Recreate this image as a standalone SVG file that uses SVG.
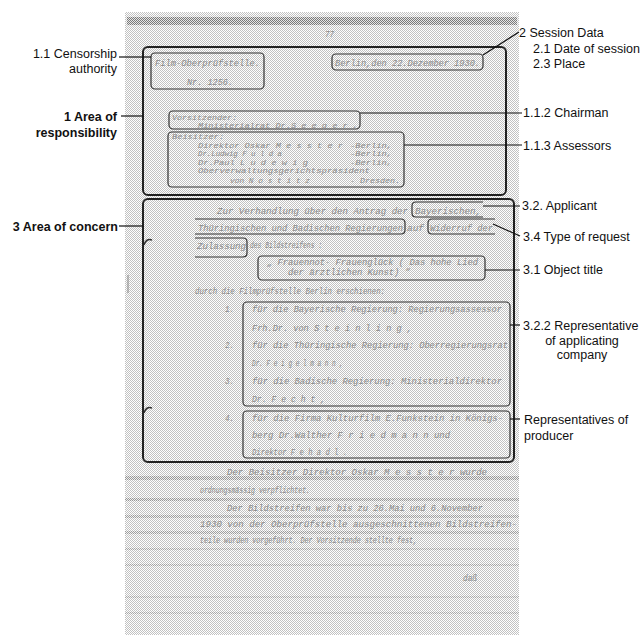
<svg xmlns="http://www.w3.org/2000/svg" width="642" height="635" viewBox="0 0 642 635">
<defs>
<pattern id="dots" width="2" height="2" patternUnits="userSpaceOnUse">
<rect width="2" height="2" fill="#ffffff"/>
<rect x="0" y="0" width="1" height="1" fill="#c2c2c2"/>
<rect x="1" y="1" width="1" height="1" fill="#c2c2c2"/>
</pattern>
<pattern id="dots2" width="2" height="2" patternUnits="userSpaceOnUse">
<rect width="2" height="2" fill="#e6e6e6"/>
<rect x="0" y="0" width="1" height="1" fill="#7a7a7a"/>
<rect x="1" y="1" width="1" height="1" fill="#7a7a7a"/>
</pattern>
<style>
.tw{font-family:"Liberation Mono","DejaVu Sans Mono",monospace;font-style:italic;font-size:9px;fill:#8a8a8a}
.sm{font-size:7.5px}
.md{font-size:8.5px}
.lab{font-family:"Liberation Sans",Arial,sans-serif;font-size:12.5px;fill:#111}
.b{font-weight:bold}
.ob{fill:none;stroke:#222;stroke-width:2}
.ib{fill:none;stroke:#333;stroke-width:1.2}
.con{fill:none;stroke:#111;stroke-width:1.2}
.mk{fill:none;stroke:#333;stroke-width:1.5}
</style>
</defs>
<rect width="642" height="635" fill="#ffffff"/>
<!-- scanned page -->
<g id="page">
<rect x="125" y="12" width="394" height="623" fill="url(#dots)"/>
<rect x="127" y="17" width="390" height="8" fill="url(#dots2)"/>
<rect x="125" y="476" width="394" height="4" fill="url(#dots2)" opacity="0.6"/>
<rect x="125" y="498" width="394" height="3" fill="url(#dots2)" opacity="0.6"/>
<rect x="125" y="515" width="394" height="3" fill="url(#dots2)" opacity="0.5"/>
<rect x="125" y="531" width="394" height="3" fill="url(#dots2)" opacity="0.5"/>
<rect x="125" y="548" width="394" height="2" fill="url(#dots2)" opacity="0.4"/>
<rect x="125" y="564" width="394" height="2" fill="url(#dots2)" opacity="0.4"/>
<rect x="125" y="596" width="394" height="2" fill="url(#dots2)" opacity="0.35"/>
<rect x="125" y="612" width="394" height="2" fill="url(#dots2)" opacity="0.35"/>
<path class="mk" d="M144,245 Q146,238 152,240"/>
<path class="mk" d="M144,413 Q146,406 152,408"/>
<line x1="128" y1="275" x2="128" y2="293" stroke="#888" stroke-width="1"/>
<text class="tw" x="325" y="37" textLength="9" lengthAdjust="spacingAndGlyphs">77</text>
<!-- text outside boxes -->
<text class="tw" x="227" y="475" textLength="260" lengthAdjust="spacingAndGlyphs">Der Beisitzer Direktor Oskar M e s s t e r  wurde</text>
<text class="tw" x="200" y="493" textLength="110" lengthAdjust="spacingAndGlyphs">ordnungsmässig verpflichtet.</text>
<text class="tw" x="227" y="511" textLength="256" lengthAdjust="spacingAndGlyphs">Der Bildstreifen war bis zu 26.Mai und 6.November</text>
<text class="tw" x="200" y="527" textLength="317" lengthAdjust="spacingAndGlyphs">1930 von der Oberprüfstelle ausgeschnittenen Bildstreifen-</text>
<text class="tw" x="200" y="543" textLength="217" lengthAdjust="spacingAndGlyphs">teile wurden vorgeführt. Der Vorsitzende stellte fest,</text>
<text class="tw" x="463" y="581" textLength="14" lengthAdjust="spacingAndGlyphs">daß</text>
</g>

<!-- 1 Area of responsibility -->
<g id="area-responsibility">
<rect class="ob" x="143" y="47" width="363" height="148" rx="5"/>
<text class="lab b" x="117" y="121" text-anchor="end">1 Area of</text>
<text class="lab b" x="117" y="137" text-anchor="end">responsibility</text>
</g>

<g id="censorship-authority">
<rect class="ib" x="151" y="53" width="113" height="36" rx="4"/>
<text class="tw" x="155" y="66" textLength="105" lengthAdjust="spacingAndGlyphs">Film-Oberprüfstelle.</text>
<text class="tw" x="187" y="85" textLength="46" lengthAdjust="spacingAndGlyphs">Nr. 1256.</text>
<text class="lab" x="117" y="58" text-anchor="end">1.1 Censorship</text>
<text class="lab" x="117" y="72.5" text-anchor="end">authority</text>
</g>

<g id="session-data">
<rect class="ib" x="332" y="54" width="151" height="16" rx="4"/>
<text class="tw" x="335" y="66" textLength="145" lengthAdjust="spacingAndGlyphs">Berlin,den 22.Dezember 1930.</text>
<text class="lab" x="519" y="37">2 Session Data</text>
<text class="lab" x="533" y="52.5">2.1 Date of session</text>
<text class="lab" x="533" y="68">2.3 Place</text>
</g>

<g id="chairman">
<rect class="ib" x="169" y="111" width="191" height="18" rx="4"/>
<text class="tw sm" x="172" y="119.5" textLength="65" lengthAdjust="spacingAndGlyphs">Vorsitzender:</text>
<text class="tw sm" x="198" y="128" textLength="160" lengthAdjust="spacingAndGlyphs">Ministerialrat Dr.S e e g e r ,</text>
<text class="lab" x="523" y="117">1.1.2 Chairman</text>
</g>

<g id="assessors">
<rect class="ib" x="168" y="132" width="236" height="55" rx="4"/>
<text class="tw sm" x="172" y="139" textLength="52" lengthAdjust="spacingAndGlyphs">Beisitzer:</text>
<text class="tw sm" x="198" y="147.5" textLength="145" lengthAdjust="spacingAndGlyphs">Direktor Oskar M e s s t e r</text>
<text class="tw sm" x="350" y="147.5" textLength="42" lengthAdjust="spacingAndGlyphs">-Berlin,</text>
<text class="tw sm" x="198" y="156" textLength="84" lengthAdjust="spacingAndGlyphs">Dr.Ludwig F u l d a</text>
<text class="tw sm" x="350" y="156" textLength="42" lengthAdjust="spacingAndGlyphs">-Berlin,</text>
<text class="tw sm" x="198" y="164.5" textLength="110" lengthAdjust="spacingAndGlyphs">Dr.Paul L u d e w i g</text>
<text class="tw sm" x="350" y="164.5" textLength="42" lengthAdjust="spacingAndGlyphs">-Berlin,</text>
<text class="tw sm" x="198" y="173" textLength="172" lengthAdjust="spacingAndGlyphs">Oberverwaltungsgerichtspräsident</text>
<text class="tw sm" x="230" y="182.5" textLength="80" lengthAdjust="spacingAndGlyphs">von N o s t i t z</text>
<text class="tw sm" x="350" y="182.5" textLength="50" lengthAdjust="spacingAndGlyphs">- Dresden.</text>
<text class="lab" x="523" y="149.5">1.1.3 Assessors</text>
</g>

<!-- 3 Area of concern -->
<g id="area-concern">
<rect class="ob" x="143" y="199" width="371" height="263" rx="5"/>
<text class="tw" x="217" y="214" textLength="191" lengthAdjust="spacingAndGlyphs">Zur Verhandlung über den Antrag der</text>
<text class="tw" x="407" y="231" textLength="17" lengthAdjust="spacingAndGlyphs">auf</text>
<text class="tw" x="250" y="248" textLength="72" lengthAdjust="spacingAndGlyphs">des Bildstreifens :</text>
<text class="tw" x="195" y="294" textLength="190" lengthAdjust="spacingAndGlyphs">durch die Filmprüfstelle Berlin erschienen:</text>
<text class="tw" x="225" y="312" textLength="9" lengthAdjust="spacingAndGlyphs">1.</text>
<text class="tw" x="225" y="348" textLength="9" lengthAdjust="spacingAndGlyphs">2.</text>
<text class="tw" x="225" y="384" textLength="9" lengthAdjust="spacingAndGlyphs">3.</text>
<text class="tw" x="225" y="421" textLength="9" lengthAdjust="spacingAndGlyphs">4.</text>
<text class="lab b" x="118" y="230.5" text-anchor="end">3 Area of concern</text>
</g>

<g id="applicant">
<path class="ib" d="M483,202 H416 Q412,202 412,206 V213 Q412,217 416,217 H483"/>
<path class="ib" d="M195,219 H401 Q405,219 405,223 V230 Q405,234 401,234 H195"/>
<text class="tw" x="415" y="214" textLength="66" lengthAdjust="spacingAndGlyphs">Bayerischen,</text>
<text class="tw" x="198" y="231" textLength="205" lengthAdjust="spacingAndGlyphs">Thüringischen und Badischen Regierungen</text>
<text class="lab" x="522" y="209.5">3.2. Applicant</text>
</g>

<g id="type-of-request">
<path class="ib" d="M495,219 H432 Q428,219 428,223 V230 Q428,234 432,234 H495"/>
<path class="ib" d="M195,238 H243 Q247,238 247,242 V253 Q247,257 243,257 H195"/>
<text class="tw" x="430" y="231" textLength="63" lengthAdjust="spacingAndGlyphs">Widerruf der</text>
<text class="tw" x="197" y="249" textLength="49" lengthAdjust="spacingAndGlyphs">Zulassung</text>
<text class="lab" x="523" y="240.5">3.4 Type of request</text>
</g>

<g id="object-title">
<rect class="ib" x="258" y="256" width="227" height="24" rx="4"/>
<text class="tw md" x="267" y="265" textLength="211" lengthAdjust="spacingAndGlyphs">„ Frauennot- Frauenglück ( Das hohe Lied</text>
<text class="tw md" x="288" y="275" textLength="122" lengthAdjust="spacingAndGlyphs">der ärztlichen Kunst) “</text>
<text class="lab" x="523" y="274">3.1 Object title</text>
</g>

<g id="representative-applicant">
<rect class="ib" x="243" y="302" width="267" height="104" rx="4"/>
<text class="tw" x="252" y="312" textLength="250" lengthAdjust="spacingAndGlyphs">für die Bayerische Regierung: Regierungsassessor</text>
<text class="tw" x="252" y="331" textLength="160" lengthAdjust="spacingAndGlyphs">Frh.Dr. von S t e i n l i n g ,</text>
<text class="tw" x="252" y="348" textLength="256" lengthAdjust="spacingAndGlyphs">für die Thüringische Regierung: Oberregierungsrat</text>
<text class="tw" x="252" y="366" textLength="91" lengthAdjust="spacingAndGlyphs">Dr. F e i g e l m a n n ,</text>
<text class="tw" x="252" y="384" textLength="250" lengthAdjust="spacingAndGlyphs">für die Badische Regierung: Ministerialdirektor</text>
<text class="tw" x="252" y="402" textLength="73" lengthAdjust="spacingAndGlyphs">Dr. F e c h t ,</text>
<text class="lab" x="523" y="330">3.2.2 Representative</text>
<text class="lab" x="582" y="345" text-anchor="middle">of applicating</text>
<text class="lab" x="582" y="359" text-anchor="middle">company</text>
</g>

<g id="representative-producer">
<rect class="ib" x="243" y="411" width="267" height="47" rx="4"/>
<text class="tw" x="252" y="421" textLength="251" lengthAdjust="spacingAndGlyphs">für die Firma Kulturfilm E.Funkstein in Königs-</text>
<text class="tw" x="252" y="438" textLength="198" lengthAdjust="spacingAndGlyphs">berg Dr.Walther F r i e d m a n n  und</text>
<text class="tw" x="252" y="455" textLength="95" lengthAdjust="spacingAndGlyphs">Direktor F e h a d l .</text>
<text class="lab" x="524" y="424">Representatives of</text>
<text class="lab" x="524" y="440">producer</text>
</g>

<g id="connectors">
<line class="con" x1="119" y1="57" x2="151" y2="57"/>
<line class="con" x1="121" y1="116" x2="143" y2="116"/>
<line class="con" x1="119" y1="226" x2="143" y2="226"/>
<line class="con" x1="483" y1="55" x2="519" y2="32"/>
<line class="con" x1="360" y1="113" x2="522" y2="113"/>
<line class="con" x1="404" y1="145" x2="522" y2="145"/>
<line class="con" x1="483" y1="206" x2="520" y2="206"/>
<line class="con" x1="493" y1="224" x2="520" y2="236"/>
<line class="con" x1="485" y1="270" x2="520" y2="270"/>
<line class="con" x1="510" y1="325" x2="520" y2="325"/>
<line class="con" x1="510" y1="419" x2="520" y2="419"/>
</g>
</svg>
